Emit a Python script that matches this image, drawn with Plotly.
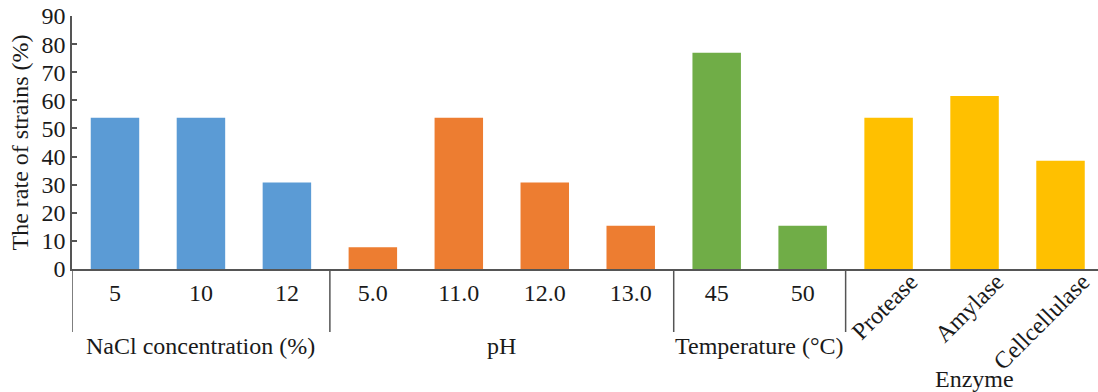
import plotly.graph_objects as go

# ---- data ----
groups = ["NaCl concentration (%)", "pH", "Temperature (\u00b0C)", "Enzyme"]
nacl_labels = ["5", "10", "12"]
nacl_values = [53.8, 53.8, 30.8]
ph_labels = ["5.0", "11.0", "12.0", "13.0"]
ph_values = [7.7, 53.8, 30.8, 15.4]
temp_labels = ["45", "50"]
temp_values = [76.9, 15.4]
enzyme_labels = ["Protease", "Amylase", "Cellcellulase"]
enzyme_values = [53.8, 61.5, 38.5]
y_ticks = [0, 10, 20, 30, 40, 50, 60, 70, 80, 90]

colors = ["#5B9BD5", "#ED7D31", "#70AD47", "#FFC000"]
FONT = "Liberation Serif, Times New Roman, serif"
TXT = "#1a1a1a"
LINE = "#555555"
FS = 24

all_groups = [
    (nacl_labels, nacl_values),
    (ph_labels, ph_values),
    (temp_labels, temp_values),
    (enzyme_labels, enzyme_values),
]
categories = [c for labs, _ in all_groups for c in labs]

fig = go.Figure()
for gi, ((labs, vals), col) in enumerate(zip(all_groups, colors)):
    fig.add_trace(go.Bar(x=labs, y=vals, marker=dict(color=col, line=dict(width=0)),
                         showlegend=False, xaxis="x2" if gi == 3 else "x"))

n = len(categories)
x_range = [-0.5, n - 0.564]

flat_labels = nacl_labels + ph_labels + temp_labels
W, H = 1098, 392
ML, MT, MB = 71.5, 16, 123
fig.update_layout(
    width=W, height=H,
    margin=dict(l=ML, r=0, t=MT, b=MB, autoexpand=False),
    plot_bgcolor="white", paper_bgcolor="white",
    bargap=0.436,
    font=dict(family=FONT, size=FS, color=TXT),
    xaxis=dict(type="category", categoryorder="array", categoryarray=categories,
               range=x_range, tickmode="array", tickvals=flat_labels, ticktext=flat_labels,
               showline=True, linecolor=LINE, linewidth=1.5, ticks="", showgrid=False,
               zeroline=False, tickfont=dict(family=FONT, size=FS, color=TXT),
               ticklabelstandoff=1, automargin=False, ticklabeloverflow="allow"),
    xaxis2=dict(overlaying="x", side="bottom", type="category", categoryorder="array",
                categoryarray=categories, range=x_range,
                tickmode="array", tickvals=enzyme_labels, ticktext=enzyme_labels,
                tickangle=-45, showline=False, showgrid=False,
                zeroline=False, ticks="", tickfont=dict(family=FONT, size=FS, color=TXT),
                ticklabelshift=22, ticklabelstandoff=-7, automargin=False,
                ticklabeloverflow="allow"),
    yaxis=dict(range=[0, 90], tickmode="array", tickvals=y_ticks, ticks="inside",
               ticklen=5, tickcolor=LINE, tickwidth=1.5, showline=True, linecolor=LINE,
               linewidth=1.5, showgrid=False, zeroline=False, automargin=False,
               ticklabeloverflow="allow",
               tickfont=dict(family=FONT, size=FS, color=TXT),
               title=dict(text="The rate of strains (%)", font=dict(family=FONT, size=FS, color=TXT),
                          standoff=6)),
)

# group dividers and group labels
plot_h = H - MT - MB
div_bottom = -(332 - 269) / plot_h
start = -0.5
for (labs, _), gname in zip(all_groups, groups):
    end = start + len(labs)
    fig.add_shape(type="line", xref="x", yref="paper", x0=start, x1=start,
                  y0=0, y1=div_bottom, line=dict(color=LINE, width=1.5))
    center = (start + end) / 2
    ypos = -(379 - 269) / plot_h if gname == "Enzyme" else -(346 - 269) / plot_h
    fig.add_annotation(text=gname, xref="x", yref="paper", x=center, y=ypos,
                       showarrow=False, xanchor="center", yanchor="middle",
                       font=dict(family=FONT, size=FS, color=TXT))
    start = end

# remove the default 8px page margin so the figure fills the window exactly
fig.write_html("out.html", config={"displayModeBar": False},
               post_script="document.body.style.margin='0';document.body.style.overflow='hidden';")
